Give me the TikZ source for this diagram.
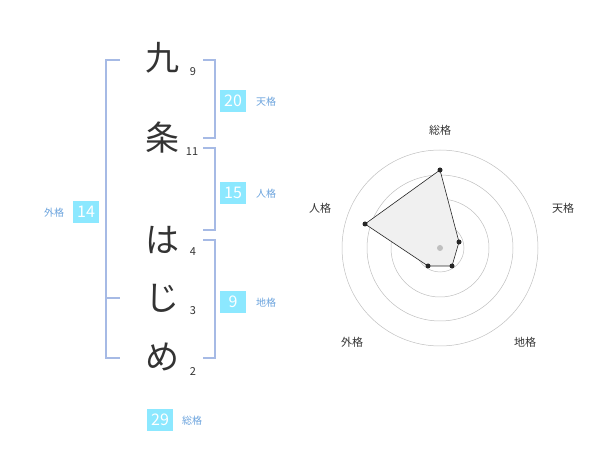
\documentclass[tikz,border=0pt]{standalone}
\usepackage{fontspec}
\setmainfont{Noto Sans CJK JP}
\begin{document}
\begin{tikzpicture}[x=1pt,y=-1pt,
  kanji/.style={font=\fontsize{34}{34}\selectfont,text=black!80},
  num/.style={font=\fontsize{11}{11}\selectfont,text=black!80},
  br/.style={draw=cyan!45!blue!35,line width=1.3pt},
  box/.style={fill=blue!20!cyan!45,text=white,minimum width=26,minimum height=22,inner sep=0,font=\fontsize{16}{16}\selectfont},
  lab/.style={text=cyan!60!blue!60,font=\fontsize{10}{10}\selectfont},
  rl/.style={font=\fontsize{11}{11}\selectfont,text=black!80},
  dot/.style={circle,fill=black!85,inner sep=0,minimum size=5}]
\useasboundingbox (0,0) rectangle (600,470);
\node[kanji] (k1) at (162,58) {九};
\node[kanji] (k2) at (162,138) {条};
\node[kanji] (k3) at (162,240) {は};
\node[kanji] (k4) at (162,298) {じ};
\node[kanji] (k5) at (162,357) {め};
\node[num] (n1) at (193,72) {9};
\node[num] (n2) at (192,152) {11};
\node[num] (n3) at (193,252) {4};
\node[num] (n4) at (193,311) {3};
\node[num] (n5) at (193,372) {2};
% left bracket
\draw[br] (120,60) -- (106,60) -- (106,358) -- (120,358);
\draw[br] (106,298) -- (120,298);
\node[box] (g) at (86,212) {14};
\node[lab] (gl) at (54,213) {外格};
% right brackets
\draw[br] (203,60) -- (215,60) -- (215,138) -- (203,138);
\draw[br] (203,148) -- (215,148) -- (215,230) -- (203,230);
\draw[br] (203,240) -- (215,240) -- (215,358) -- (203,358);
\node[box] (t) at (233,101) {20}; \node[lab] (tl) at (266,102) {天格};
\node[box] (j) at (233,193) {15}; \node[lab] (jl) at (266,194) {人格};
\node[box] (c) at (233,302) {9}; \node[lab] (cl) at (266,303) {地格};
\node[box] (s) at (160,420) {29}; \node[lab] (sl) at (192,421) {総格};
% radar
\coordinate (O) at (440,248);
\foreach \r in {24,49,73,98} \draw[black!25,line width=0.5pt] (O) circle (\r);
\node[rl] at (440,130) {総格};
\node[rl] at (563,208) {天格};
\node[rl] at (525,342) {地格};
\node[rl] at (352,342) {外格};
\node[rl] at (320,208) {人格};
\coordinate (p1) at (440,170);
\coordinate (p2) at (459,242);
\coordinate (p3) at (452,266);
\coordinate (p4) at (428,266);
\coordinate (p5) at (365,224);
\draw[fill=black!6,draw=black!85,line width=0.6pt] (p1)--(p2)--(p3)--(p4)--(p5)--cycle;
\foreach \p in {p1,p2,p3,p4,p5} \node[dot] at (\p) {};
\node[circle,fill=black!25,inner sep=0,minimum size=6] at (O) {};
\end{tikzpicture}
\end{document}
